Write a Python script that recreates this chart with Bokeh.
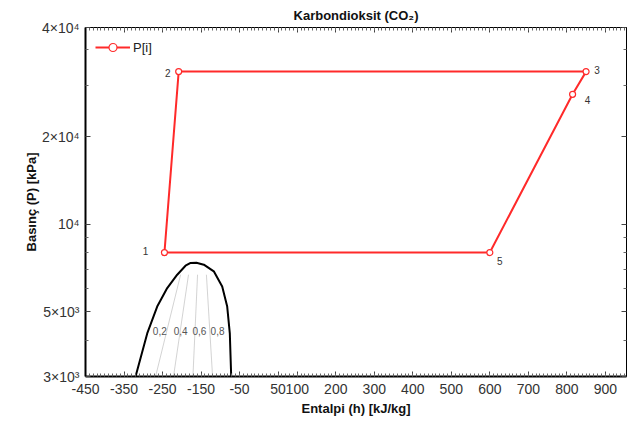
from bokeh.plotting import figure
from bokeh.models import Range1d, FixedTicker, LinearAxis, LogAxis, Legend, LegendItem, ColumnDataSource, CustomJSTickFormatter
from bokeh.core.properties import value
from bokeh.embed import file_html
from bokeh.resources import INLINE

# ---- data ----
h_cycle = [-245, -208, 850, 815, 600, -245]
P_cycle = [8000, 33500, 33500, 28000, 8000, 8000]
point_ids = ["1", "2", "3", "4", "5"]

dome_h = [-320, -289.7, -263.8, -237.8, -211.8, -190.3, -177, -162, -142.7, -116.8, -95, -82, -75.2, -71.6]
dome_P = [3000, 4219, 5217, 6039, 6714, 7210, 7370, 7377, 7270, 6896, 6114, 5217, 4219, 3000]

q_labels = ["0,2", "0,4", "0,6", "0,8"]
q_h_top = [-203, -182.5, -159, -136]
q_h_bot = [-268, -221.4, -171, -120]
q_P_top = [6714, 6714, 6714, 6714]
q_P_bot = [3000, 3000, 3000, 3000]
q_label_h = [-257, -203, -154, -107]
q_label_P = [4295, 4295, 4295, 4295]

x_ticks = [-450, -350, -250, -150, -50, 50, 100, 200, 300, 400, 500, 600, 700, 800, 900]
x_tick_labels = {-450: "-450", -350: "-350", -250: "-250", -150: "-150", -50: "-50"}
y_ticks = [3000, 5000, 10000, 20000, 47500]
y_tick_labels = {3000: "3×10³", 5000: "5×10³", 10000: "10⁴", 20000: "2×10⁴", 47500: "4×10⁴"}
y_minor = [4000, 6000, 7000, 8000, 9000, 30000, 40000]
x_minor = list(range(-450, 960, 10))

FONT = "Liberation Sans"

p = figure(width=630, height=418, y_axis_type="log",
           x_range=Range1d(-450, 955), y_range=Range1d(3000, 47500),
           output_backend="svg", toolbar_location=None,
           min_border_left=85, min_border_right=4, min_border_top=22, min_border_bottom=42,
           title="Karbondioksit (CO₂)")
p.title.align = "center"
p.title.text_font = FONT
p.title.text_font_size = "13px"
p.title.text_font_style = "bold"
p.title.text_color = "#111111"
p.grid.visible = False
p.outline_line_color = "black"
p.outline_line_width = 1

# axes
xa = p.xaxis[0]
xa.ticker = FixedTicker(ticks=x_ticks, minor_ticks=x_minor)
xa.major_label_overrides = x_tick_labels
xa.axis_label = "Entalpi (h) [kJ/kg]"
ya = p.yaxis[0]
ya.ticker = FixedTicker(ticks=y_ticks, minor_ticks=y_minor)
ya.major_label_overrides = y_tick_labels
ya.axis_label = "Basınç (P) [kPa]"
for ax in (xa, ya):
    ax.axis_line_width = 2
    ax.axis_line_color = "black"
    ax.major_tick_in = 5
    ax.major_tick_out = 0
    ax.minor_tick_in = 3
    ax.minor_tick_out = 0
    ax.major_tick_line_color = "#444444"
    ax.minor_tick_line_color = "#666666"
    ax.major_label_text_font = FONT
    ax.major_label_text_font_size = "14px"
    ax.major_label_text_color = "#333333"
    ax.axis_label_text_font = FONT
    ax.axis_label_text_font_size = "13px"
    ax.axis_label_text_font_style = "bold"
    ax.axis_label_text_color = "#111111"
xa.major_label_standoff = 7
xa.axis_label_standoff = 4
ya.major_label_standoff = 6
ya.axis_label_standoff = 0

top = LinearAxis(ticker=FixedTicker(ticks=x_ticks, minor_ticks=x_minor),
                 formatter=CustomJSTickFormatter(code="return ''"))
right = LogAxis(ticker=FixedTicker(ticks=y_ticks, minor_ticks=y_minor),
                formatter=CustomJSTickFormatter(code="return ''"))
for ax in (top, right):
    ax.major_tick_in = 5
    ax.major_tick_out = 0
    ax.minor_tick_in = 3
    ax.minor_tick_out = 0
    ax.axis_line_color = "black"
    ax.major_tick_line_color = "#444444"
    ax.minor_tick_line_color = "#666666"
    ax.major_label_standoff = 0
p.add_layout(top, "above")
p.add_layout(right, "right")

# saturation dome and quality lines
p.multi_line([[a, b] for a, b in zip(q_h_top, q_h_bot)], [[a, b] for a, b in zip(q_P_top, q_P_bot)],
             line_color="#c8c8c8", line_width=0.8)
p.line(dome_h, dome_P, line_color="black", line_width=2)
p.text(q_label_h, q_label_P, text=q_labels, text_font=value(FONT), text_font_size="10px",
       text_color="#555555", text_align="center", text_baseline="middle")

# cycle
r_line = p.line(h_cycle, P_cycle, line_color="#ff2a2a", line_width=2)
r_pts = p.scatter(h_cycle[:-1], P_cycle[:-1], marker="circle", size=6, fill_color="white",
                  line_color="#ff2a2a", line_width=1.2)
src = ColumnDataSource(dict(h=h_cycle[:-1], P=P_cycle[:-1], t=point_ids,
                            dx=[-19, -11, 11, 15, 10], dy=[-2, 1, -2, 6, 8]))
p.text("h", "P", text="t", x_offset="dx", y_offset="dy", source=src, text_font=value(FONT),
       text_font_size="10px", text_color="#333333", text_align="center", text_baseline="middle")

legend = Legend(items=[LegendItem(label="P[i]", renderers=[r_line, r_pts])], location="top_left",
                margin=10, padding=2, glyph_width=35, glyph_height=20, label_standoff=3,
                border_line_color=None, background_fill_alpha=0,
                label_text_font=FONT, label_text_font_size="13px", label_text_color="#222222")
p.add_layout(legend)

open("out.html", "w").write(file_html(p, INLINE))
